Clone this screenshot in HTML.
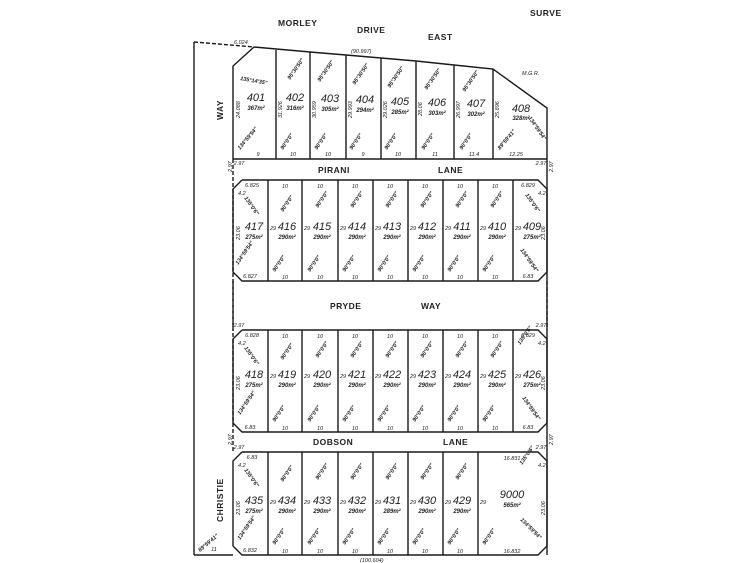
<!DOCTYPE html>
<html><head><meta charset="utf-8"><style>
html,body{margin:0;padding:0;background:#fff}
svg{display:block}
text{font-family:"Liberation Sans",sans-serif;fill:#222}
.n{font-size:11px;font-style:italic}
.a{font-size:6px;font-style:italic;font-weight:bold}
.r{font-size:8.5px;font-weight:bold;letter-spacing:0.5px}
.d{font-size:5.5px;font-style:italic}
.g{font-size:5.5px;font-style:italic;font-weight:bold}
</style></head><body>
<svg width="750" height="563" viewBox="0 0 750 563" xmlns="http://www.w3.org/2000/svg">
<defs>
<g id="ang"><text class="g" transform="rotate(-55)">90°0'0"</text></g>
</defs>
<g stroke="#1a1a1a" stroke-width="1.4" fill="none">
<line x1="194" y1="42" x2="194" y2="555"/>
<line x1="194" y1="42" x2="254" y2="47" stroke-dasharray="4,2"/>
<line x1="194" y1="555" x2="233" y2="555"/>
<polyline points="254,47 310,52 346,55 381,58 416,61 454,65 493,69 547,108 547,555"/>
<polyline points="233,159 233,66 254,47"/>
<line x1="233" y1="159" x2="547" y2="159"/>
<line x1="276" y1="50" x2="276" y2="159"/>
<line x1="310" y1="52" x2="310" y2="159"/>
<line x1="346" y1="55" x2="346" y2="159"/>
<line x1="381" y1="58" x2="381" y2="159"/>
<line x1="416" y1="61" x2="416" y2="159"/>
<line x1="454" y1="65" x2="454" y2="159"/>
<line x1="493" y1="69" x2="493" y2="159"/>
<line x1="233" y1="159" x2="233" y2="452" stroke-dasharray="4,2"/>
<polyline points="242,180 538,180 547,189 547,272 538,281 242,281 233,272 233,189 242,180"/>
<polyline points="242,330 538,330 547,339 547,423 538,432 242,432 233,423 233,339 242,330"/>
<polyline points="242,452 538,452 547,461 547,546 538,555 242,555 233,546 233,461 242,452"/>
<line x1="268" y1="180" x2="268" y2="281"/><line x1="302" y1="180" x2="302" y2="281"/><line x1="338" y1="180" x2="338" y2="281"/><line x1="373" y1="180" x2="373" y2="281"/><line x1="408" y1="180" x2="408" y2="281"/><line x1="443" y1="180" x2="443" y2="281"/><line x1="478" y1="180" x2="478" y2="281"/><line x1="513" y1="180" x2="513" y2="281"/>
<line x1="268" y1="330" x2="268" y2="432"/><line x1="302" y1="330" x2="302" y2="432"/><line x1="338" y1="330" x2="338" y2="432"/><line x1="373" y1="330" x2="373" y2="432"/><line x1="408" y1="330" x2="408" y2="432"/><line x1="443" y1="330" x2="443" y2="432"/><line x1="478" y1="330" x2="478" y2="432"/><line x1="513" y1="330" x2="513" y2="432"/>
<line x1="268" y1="452" x2="268" y2="555"/><line x1="302" y1="452" x2="302" y2="555"/><line x1="338" y1="452" x2="338" y2="555"/><line x1="373" y1="452" x2="373" y2="555"/><line x1="408" y1="452" x2="408" y2="555"/><line x1="443" y1="452" x2="443" y2="555"/><line x1="478" y1="452" x2="478" y2="555"/>
<line x1="547" y1="281" x2="547" y2="330" stroke-dasharray="4,2"/>
<line x1="233" y1="281" x2="233" y2="330" stroke-dasharray="4,2"/>
</g>
<text class="r" x="278" y="26">MORLEY</text>
<text class="r" x="357" y="33">DRIVE</text>
<text class="r" x="428" y="40">EAST</text>
<text class="r" x="530" y="16">SURVE</text>
<text class="r" x="318" y="173">PIRANI</text>
<text class="r" x="438" y="173">LANE</text>
<text class="r" x="330" y="309">PRYDE</text>
<text class="r" x="421" y="309">WAY</text>
<text class="r" x="313" y="445">DOBSON</text>
<text class="r" x="443" y="445">LANE</text>
<text class="r" transform="translate(223,120) rotate(-90)">WAY</text>
<text class="r" transform="translate(223,522) rotate(-90)">CHRISTIE</text>
<text class="d" x="351" y="53">(90.997)</text>
<text class="d" x="360" y="562">(100.604)</text>
<text class="d" x="522" y="75">M.G.R.</text>
<text class="d" x="234" y="44">6.024</text>
<g text-anchor="middle">
<text class="n" x="256" y="101">401</text><text class="a" x="256" y="110">367m²</text>
<text class="n" x="295" y="101">402</text><text class="a" x="295" y="110">316m²</text>
<text class="n" x="330" y="102">403</text><text class="a" x="330" y="111">305m²</text>
<text class="n" x="365" y="103">404</text><text class="a" x="365" y="112">294m²</text>
<text class="n" x="400" y="105">405</text><text class="a" x="400" y="114">285m²</text>
<text class="n" x="437" y="106">406</text><text class="a" x="437" y="115">303m²</text>
<text class="n" x="476" y="107">407</text><text class="a" x="476" y="116">302m²</text>
<text class="n" x="521" y="112">408</text><text class="a" x="521" y="120">328m²</text>
<text class="n" x="254" y="230">417</text><text class="a" x="254" y="239">275m²</text>
<text class="n" x="287" y="230">416</text><text class="a" x="287" y="239">290m²</text>
<text class="n" x="322" y="230">415</text><text class="a" x="322" y="239">290m²</text>
<text class="n" x="357" y="230">414</text><text class="a" x="357" y="239">290m²</text>
<text class="n" x="392" y="230">413</text><text class="a" x="392" y="239">290m²</text>
<text class="n" x="427" y="230">412</text><text class="a" x="427" y="239">290m²</text>
<text class="n" x="462" y="230">411</text><text class="a" x="462" y="239">290m²</text>
<text class="n" x="497" y="230">410</text><text class="a" x="497" y="239">290m²</text>
<text class="n" x="532" y="230">409</text><text class="a" x="532" y="239">275m²</text>
<text class="n" x="254" y="378">418</text><text class="a" x="254" y="387">275m²</text>
<text class="n" x="287" y="378">419</text><text class="a" x="287" y="387">290m²</text>
<text class="n" x="322" y="378">420</text><text class="a" x="322" y="387">290m²</text>
<text class="n" x="357" y="378">421</text><text class="a" x="357" y="387">290m²</text>
<text class="n" x="392" y="378">422</text><text class="a" x="392" y="387">290m²</text>
<text class="n" x="427" y="378">423</text><text class="a" x="427" y="387">290m²</text>
<text class="n" x="462" y="378">424</text><text class="a" x="462" y="387">290m²</text>
<text class="n" x="497" y="378">425</text><text class="a" x="497" y="387">290m²</text>
<text class="n" x="532" y="378">426</text><text class="a" x="532" y="387">275m²</text>
<text class="n" x="254" y="504">435</text><text class="a" x="254" y="513">275m²</text>
<text class="n" x="287" y="504">434</text><text class="a" x="287" y="513">290m²</text>
<text class="n" x="322" y="504">433</text><text class="a" x="322" y="513">290m²</text>
<text class="n" x="357" y="504">432</text><text class="a" x="357" y="513">290m²</text>
<text class="n" x="392" y="504">431</text><text class="a" x="392" y="513">289m²</text>
<text class="n" x="427" y="504">430</text><text class="a" x="427" y="513">290m²</text>
<text class="n" x="462" y="504">429</text><text class="a" x="462" y="513">290m²</text>
<text class="n" x="512" y="498">9000</text><text class="a" x="512" y="507">565m²</text>
</g>
<g class="d" text-anchor="middle">
<text x="258" y="156">9</text><text x="293" y="156">10</text><text x="328" y="156">10</text><text x="363" y="156">9</text><text x="398" y="156">10</text><text x="435" y="156">11</text><text x="474" y="156">11.4</text><text x="516" y="156">12.25</text>
<text x="285" y="188">10</text><text x="320" y="188">10</text><text x="355" y="188">10</text><text x="390" y="188">10</text><text x="425" y="188">10</text><text x="460" y="188">10</text><text x="495" y="188">10</text>
<text x="285" y="279">10</text><text x="320" y="279">10</text><text x="355" y="279">10</text><text x="390" y="279">10</text><text x="425" y="279">10</text><text x="460" y="279">10</text><text x="495" y="279">10</text>
<text x="285" y="338">10</text><text x="320" y="338">10</text><text x="355" y="338">10</text><text x="390" y="338">10</text><text x="425" y="338">10</text><text x="460" y="338">10</text><text x="495" y="338">10</text>
<text x="285" y="430">10</text><text x="320" y="430">10</text><text x="355" y="430">10</text><text x="390" y="430">10</text><text x="425" y="430">10</text><text x="460" y="430">10</text><text x="495" y="430">10</text>
<text x="285" y="553">10</text><text x="320" y="553">10</text><text x="355" y="553">10</text><text x="390" y="553">10</text><text x="425" y="553">10</text><text x="460" y="553">10</text><text x="512" y="553">16.832</text>
<text x="512" y="460">16.831</text><text x="214" y="551">11</text>
<text x="239" y="165">2.97</text><text x="541" y="165">2.97</text><text x="239" y="449">2.97</text><text x="541" y="449">2.97</text>
<text x="239" y="327">2.97</text><text x="541" y="327">2.97</text>
<text x="252" y="187">6.825</text><text x="528" y="187">6.829</text>
<text x="250" y="278">6.827</text><text x="528" y="278">6.83</text>
<text x="252" y="337">6.828</text><text x="528" y="337">6.829</text>
<text x="250" y="429">6.83</text><text x="528" y="429">6.83</text>
<text x="252" y="459">6.83</text><text x="250" y="552">6.832</text>
</g>
<!-- side dimension labels -->
<g class="d">
<text transform="translate(240,118) rotate(-90)">24.088</text>
<text transform="translate(282,118) rotate(-90)">31.926</text>
<text transform="translate(316,118) rotate(-90)">30.959</text>
<text transform="translate(352,118) rotate(-90)">29.993</text>
<text transform="translate(387,118) rotate(-90)">29.026</text>
<text transform="translate(422,116) rotate(-90)">28.06</text>
<text transform="translate(460,118) rotate(-90)">26.997</text>
<text transform="translate(499,118) rotate(-90)">25.896</text>
<text transform="translate(240,240) rotate(-90)">23.06</text>
<text transform="translate(240,390) rotate(-90)">23.06</text>
<text transform="translate(240,515) rotate(-90)">23.06</text>
<text transform="translate(545,515) rotate(-90)">23.06</text>
<text transform="translate(545,240) rotate(-90)">23.06</text>
<text transform="translate(545,390) rotate(-90)">23.06</text>
<text transform="translate(232,172) rotate(-90)">2.97</text>
<text transform="translate(232,445) rotate(-90)">2.97</text>
<text transform="translate(553,172) rotate(-90)">2.97</text>
<text transform="translate(553,445) rotate(-90)">2.97</text>
</g>
<g class="d">
<text x="270" y="230">29</text><text x="304" y="230">29</text><text x="340" y="230">29</text><text x="375" y="230">29</text><text x="410" y="230">29</text><text x="445" y="230">29</text><text x="480" y="230">29</text><text x="515" y="230">29</text>
<text x="270" y="378">29</text><text x="304" y="378">29</text><text x="340" y="378">29</text><text x="375" y="378">29</text><text x="410" y="378">29</text><text x="445" y="378">29</text><text x="480" y="378">29</text><text x="515" y="378">29</text>
<text x="270" y="504">29</text><text x="304" y="504">29</text><text x="340" y="504">29</text><text x="375" y="504">29</text><text x="410" y="504">29</text><text x="445" y="504">29</text><text x="480" y="504">29</text>
</g>
<!-- angle annotations -->
<g>
<use href="#ang" x="283" y="212"/><use href="#ang" x="318" y="208"/><use href="#ang" x="353" y="208"/><use href="#ang" x="388" y="208"/><use href="#ang" x="423" y="208"/><use href="#ang" x="458" y="208"/><use href="#ang" x="493" y="208"/>
<use href="#ang" x="275" y="272"/><use href="#ang" x="310" y="272"/><use href="#ang" x="345" y="272"/><use href="#ang" x="380" y="272"/><use href="#ang" x="415" y="272"/><use href="#ang" x="450" y="272"/><use href="#ang" x="485" y="272"/>
<use href="#ang" x="283" y="360"/><use href="#ang" x="318" y="358"/><use href="#ang" x="353" y="358"/><use href="#ang" x="388" y="358"/><use href="#ang" x="423" y="358"/><use href="#ang" x="458" y="358"/><use href="#ang" x="493" y="358"/>
<use href="#ang" x="275" y="422"/><use href="#ang" x="310" y="422"/><use href="#ang" x="345" y="422"/><use href="#ang" x="380" y="422"/><use href="#ang" x="415" y="422"/><use href="#ang" x="450" y="422"/><use href="#ang" x="485" y="422"/>
<use href="#ang" x="283" y="482"/><use href="#ang" x="318" y="480"/><use href="#ang" x="353" y="480"/><use href="#ang" x="388" y="480"/><use href="#ang" x="423" y="480"/><use href="#ang" x="458" y="480"/>
<use href="#ang" x="275" y="545"/><use href="#ang" x="310" y="545"/><use href="#ang" x="345" y="545"/><use href="#ang" x="380" y="545"/><use href="#ang" x="415" y="545"/><use href="#ang" x="450" y="545"/><use href="#ang" x="485" y="545"/>
<use href="#ang" x="283" y="150"/><use href="#ang" x="317" y="150"/><use href="#ang" x="352" y="150"/><use href="#ang" x="387" y="150"/><use href="#ang" x="424" y="150"/><use href="#ang" x="462" y="150"/>
</g>
<g class="g">
<text transform="translate(320,82) rotate(-55)">95°30'50"</text>
<text transform="translate(355,85) rotate(-55)">95°30'50"</text>
<text transform="translate(390,88) rotate(-55)">95°30'50"</text>
<text transform="translate(427,90) rotate(-55)">95°30'50"</text>
<text transform="translate(465,92) rotate(-55)">95°30'50"</text>
<text transform="translate(290,80) rotate(-55)">95°30'50"</text>
<text transform="translate(240,150) rotate(-50)">134°59'54"</text>
<text transform="translate(500,150) rotate(-50)">89°59'41"</text>
<text transform="translate(528,118) rotate(55)">134°59'54"</text>
<text transform="translate(238,265) rotate(-55)">134°59'54"</text>
<text transform="translate(240,415) rotate(-55)">134°59'54"</text>
<text transform="translate(240,540) rotate(-55)">134°59'54"</text>
<text transform="translate(525,195) rotate(55)">135°0'6"</text>
<text transform="translate(520,345) rotate(-55)">135°0'6"</text>
<text transform="translate(522,465) rotate(-55)">135°0'6"</text>
<text transform="translate(520,520) rotate(45)">134°59'54"</text>
<text transform="translate(522,398) rotate(55)">134°59'54"</text>
<text transform="translate(520,250) rotate(55)">134°59'54"</text>
<text transform="translate(244,198) rotate(55)">135°0'6"</text>
<text transform="translate(244,348) rotate(55)">135°0'6"</text>
<text transform="translate(244,470) rotate(55)">135°0'6"</text>
<text transform="translate(240,80) rotate(10)">135°14'35"</text>
<text transform="translate(200,552) rotate(-40)">89°59'41"</text>
</g>
<g class="d">
<text x="238" y="195">4.2</text><text x="238" y="345">4.2</text><text x="238" y="467">4.2</text>
<text x="538" y="195">4.2</text><text x="538" y="345">4.2</text><text x="538" y="467">4.2</text>
</g>
</svg>
</body></html>
